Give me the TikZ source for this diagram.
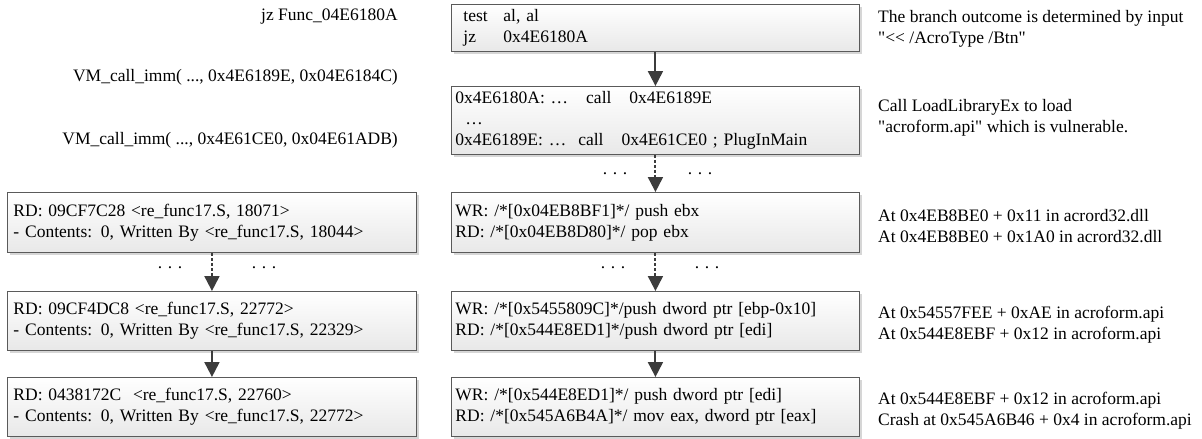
\documentclass[tikz,border=0pt]{standalone}
\usepackage{fontspec}
\setmainfont{Liberation Serif}[Ligatures=TeXOff]
\usetikzlibrary{arrows.meta,shadows}
\definecolor{boxline}{HTML}{5A5A5A}
\definecolor{arrowc}{HTML}{3C3C3C}
\begin{document}
\begin{tikzpicture}[x=1pt,y=-1pt,
  every node/.style={font=\fontsize{17.5}{21}\selectfont, inner sep=0pt},
  box/.style={draw=boxline, line width=0.9pt, top color=white, bottom color=black!9,
    anchor=north west, align=left, inner xsep=4pt, inner ysep=0pt,
    text width=400pt, minimum width=408pt,
    drop shadow={shadow xshift=3pt, shadow yshift=-3pt, fill=black!16, opacity=1}},
  lbox/.style={box, inner xsep=6pt, text width=397pt, minimum width=409pt},
  note/.style={anchor=west, align=left},
  lnote/.style={anchor=east, align=right},
  arr/.style={draw=arrowc, line width=2pt, -{Triangle[width=15pt,length=15pt]}},
  darr/.style={arr, dash pattern=on 3pt off 2pt},
  dots/.style={font=\fontsize{17.5}{21}\selectfont}
]
\useasboundingbox (0,0) rectangle (1202,439);

% middle column
\node[box, minimum height=47pt] (m1) at (451,4)
  {\hspace*{8pt}\makebox[40pt][l]{test}al, al\\\hspace*{8pt}\makebox[40pt][l]{jz}0x4E6180A};
\node[box, minimum height=68pt] (m2) at (451,86)
  {0x4E6180A: \ldots\hspace{18pt}call\hspace{18pt}0x4E6189E\\\hspace*{10pt}\ldots\\0x4E6189E: \ldots\hspace{12pt}call\hspace{18pt}0x4E61CE0 ; PlugInMain};
\node[box, minimum height=60pt] (m3) at (451,192)
  {WR: /*[0x04EB8BF1]*/ push ebx\\RD: /*[0x04EB8D80]*/ pop ebx};
\node[box, minimum height=59pt] (m4) at (451,291)
  {WR: /*[0x5455809C]*/push dword ptr [ebp-0x10]\\RD: /*[0x544E8ED1]*/push dword ptr [edi]};
\node[box, minimum height=59pt] (m5) at (451,377)
  {WR: /*[0x544E8ED1]*/ push dword ptr [edi]\\RD: /*[0x545A6B4A]*/ mov eax, dword ptr [eax]};

% left column
\node[lbox, minimum height=60pt] (l1) at (7,192)
  {RD: 09CF7C28 <re\_func17.S, 18071>\\- Contents: 0, Written By <re\_func17.S, 18044>};
\node[lbox, minimum height=59pt] (l2) at (7,291)
  {RD: 09CF4DC8 <re\_func17.S, 22772>\\- Contents: 0, Written By <re\_func17.S, 22329>};
\node[lbox, minimum height=59pt] (l3) at (7,377)
  {RD: 0438172C\ \ <re\_func17.S, 22760>\\- Contents: 0, Written By <re\_func17.S, 22772>};

% left notes
\node[lnote] (t1) at (398,17) {jz Func\_04E6180A};
\node[lnote] (t2) at (398,77) {VM\_call\_imm( ..., 0x4E6189E, 0x04E6184C)};
\node[lnote] (t3) at (398,140) {VM\_call\_imm( ..., 0x4E61CE0, 0x04E61ADB)};

% right notes
\node[note] (r1) at (878,29) {The branch outcome is determined by input\\"<< /AcroType /Btn"};
\node[note] (r2) at (878,118) {Call LoadLibraryEx to load\\"acroform.api" which is vulnerable.};
\node[note] (r3) at (878,226) {At 0x4EB8BE0 + 0x11 in acrord32.dll\\At 0x4EB8BE0 + 0x1A0 in acrord32.dll};
\node[note] (r4) at (878,325) {At 0x54557FEE + 0xAE in acroform.api\\At 0x544E8EBF + 0x12 in acroform.api};
\node[note] (r5) at (878,411) {At 0x544E8EBF + 0x12 in acroform.api\\Crash at 0x545A6B46 + 0x4 in acroform.api};

% connectors
\draw[arr] (m1) -- (m2);
\draw[darr] (m2) -- (m3);
\draw[darr] (m3) -- (m4);
\draw[arr] (m4) -- (m5);
\draw[darr] (l1) -- (l2);
\draw[arr] (l2) -- (l3);

% dots
\node[dots] (d1) at (615,174) {.\hspace{5.6pt}.\hspace{5.6pt}.};
\node[dots] (d2) at (700,174) {.\hspace{5.6pt}.\hspace{5.6pt}.};
\node[dots] (d3) at (613,268) {.\hspace{5.6pt}.\hspace{5.6pt}.};
\node[dots] (d4) at (707,268) {.\hspace{5.6pt}.\hspace{5.6pt}.};
\node[dots] (d5) at (170,268) {.\hspace{5.6pt}.\hspace{5.6pt}.};
\node[dots] (d6) at (264,268) {.\hspace{5.6pt}.\hspace{5.6pt}.};
\end{tikzpicture}
\end{document}
